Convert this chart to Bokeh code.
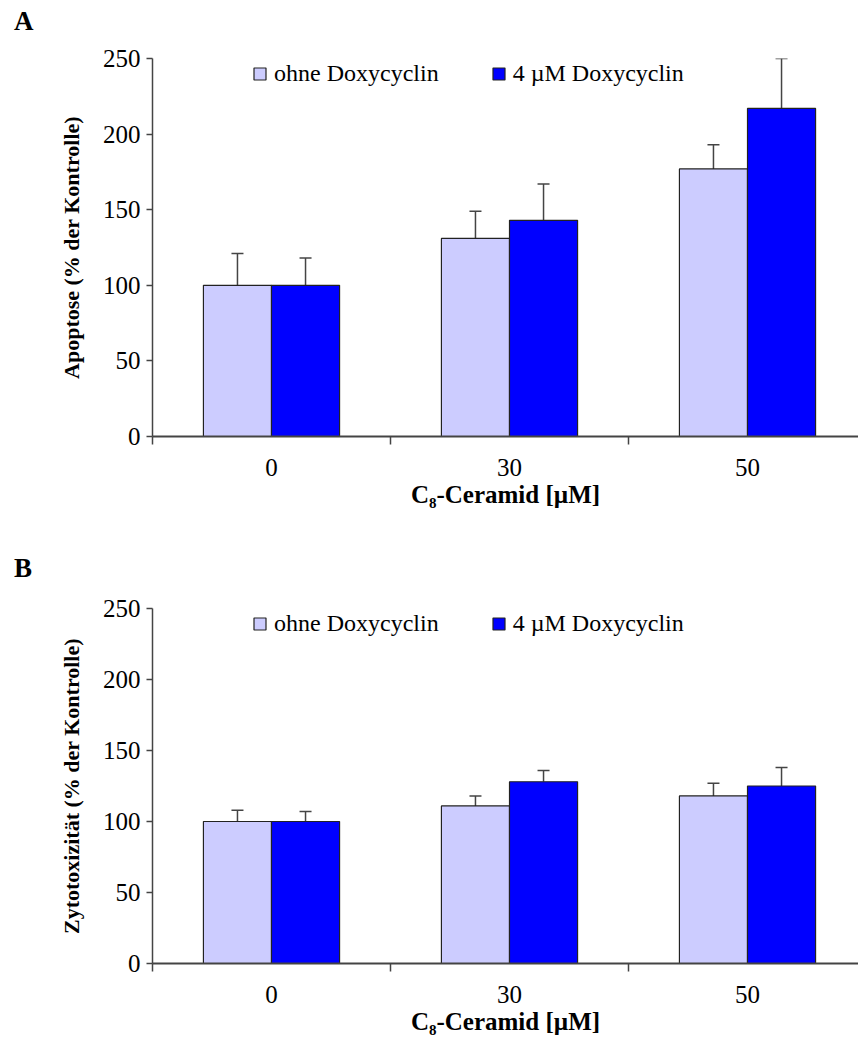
from bokeh.plotting import figure
from bokeh.models import (Range1d, FixedTicker, Legend, LegendItem,
                          Whisker, TeeHead, ColumnDataSource, Div)
from bokeh.layouts import column
from bokeh.embed import file_html
from bokeh.resources import INLINE

categories = ["0", "30", "50"]
series_names = ["ohne Doxycyclin", "4 \u00b5M Doxycyclin"]
series_colors = ["#CCCCFF", "#0000FF"]

apoptose_ohne = [100, 131, 177]
apoptose_ohne_sd = [21, 18, 16]
apoptose_doxy = [100, 143, 217]
apoptose_doxy_sd = [18, 24, 33]

zyto_ohne = [100, 111, 118]
zyto_ohne_sd = [8, 7, 9]
zyto_doxy = [100, 128, 125]
zyto_doxy_sd = [7, 8, 13]

y_ticks = [0, 50, 100, 150, 200, 250]

FONT = "Liberation Serif"
AXIS_COLOR = "#444444"


def make_letter(letter, div_h, pad_top):
    html = ('<div style="margin:0;padding:0;padding-top:%dpx;padding-left:14px;'
            'font-family:\'Liberation Serif\';font-weight:bold;font-size:27px;'
            'line-height:30px;color:black;">%s</div>' % (pad_top, letter))
    return Div(text=html, width=858, height=div_h, margin=0)


def make_panel(ylabel, ohne, ohne_sd, doxy, doxy_sd,
               frame_h, border_top, border_bottom):
    n = len(categories)
    centers = [i + 0.5 for i in range(n)]
    bw = 0.286
    x_end = 706 / 238.0
    p = figure(width=858, height=border_top + frame_h + border_bottom,
               x_range=Range1d(0, x_end), y_range=Range1d(0, 250),
               output_backend="svg", toolbar_location=None,
               min_border_left=152, min_border_right=0,
               min_border_top=border_top, min_border_bottom=border_bottom,
               margin=0)
    p.outline_line_color = None
    p.xgrid.visible = False
    p.ygrid.visible = False
    p.background_fill_color = "white"
    p.border_fill_color = "white"

    renderers = []
    for k, (vals, sds) in enumerate([(ohne, ohne_sd), (doxy, doxy_sd)]):
        xs = [c + (k - 0.5) * bw for c in centers]
        src = ColumnDataSource(dict(x=xs, top=vals,
                                    upper=[v + s for v, s in zip(vals, sds)]))
        r = p.vbar(x="x", top="top", bottom=0, width=bw, source=src,
                   fill_color=series_colors[k], line_color="#222222",
                   line_width=1.2)
        renderers.append(r)
        w = Whisker(base="x", lower="top", upper="upper", source=src,
                    line_color="#444444", line_width=1.5,
                    lower_head=None,
                    upper_head=TeeHead(size=12, line_color="#444444",
                                       line_width=1.5))
        p.add_layout(w)

    # x axis
    xa = p.xaxis[0]
    xa.ticker = FixedTicker(ticks=centers, minor_ticks=list(range(n + 1)))
    xa.major_label_overrides = {c: lab for c, lab in zip(centers, categories)}
    xa.major_tick_out = 0
    xa.major_tick_in = 0
    xa.minor_tick_out = 8
    xa.minor_tick_in = 0
    xa.minor_tick_line_color = AXIS_COLOR
    xa.minor_tick_line_width = 1.5
    xa.axis_line_color = AXIS_COLOR
    xa.axis_line_width = 2
    xa.major_label_text_font = FONT
    xa.major_label_text_font_size = "25px"
    xa.major_label_text_color = "black"
    xa.major_label_standoff = 14
    xa.axis_label = "C\u2088-Ceramid [\u00b5M]"
    xa.axis_label_text_font = FONT
    xa.axis_label_text_font_style = "bold"
    xa.axis_label_text_font_size = "25px"
    xa.axis_label_text_color = "black"
    xa.axis_label_standoff = 2

    # y axis
    ya = p.yaxis[0]
    ya.ticker = FixedTicker(ticks=y_ticks, minor_ticks=[])
    ya.major_tick_out = 6
    ya.major_tick_in = 0
    ya.major_tick_line_color = AXIS_COLOR
    ya.major_tick_line_width = 1.5
    ya.axis_line_color = AXIS_COLOR
    ya.axis_line_width = 1.5
    ya.major_label_text_font = FONT
    ya.major_label_text_font_size = "25px"
    ya.major_label_text_color = "black"
    ya.major_label_standoff = 6
    ya.axis_label = ylabel
    ya.axis_label_text_font = FONT
    ya.axis_label_text_font_style = "bold"
    ya.axis_label_text_font_size = "22px"
    ya.axis_label_text_color = "black"
    ya.axis_label_standoff = 16

    legend = Legend(items=[LegendItem(label=series_names[i], renderers=[renderers[i]])
                           for i in range(2)],
                    orientation="horizontal",
                    location=(100, frame_h - 29),
                    padding=0, margin=0, spacing=52,
                    glyph_width=15, glyph_height=15, label_standoff=7,
                    label_text_font=FONT, label_text_font_size="24px",
                    label_text_color="black",
                    border_line_alpha=0, background_fill_alpha=0)
    p.add_layout(legend, "center")
    return p


divA = make_letter("A", 36, 6)
pA = make_panel("Apoptose (% der Kontrolle)",
                apoptose_ohne, apoptose_ohne_sd, apoptose_doxy, apoptose_doxy_sd,
                frame_h=378, border_top=22, border_bottom=85)
divB = make_letter("B", 62, 32)
pB = make_panel("Zytotoxizit\u00e4t (% der Kontrolle)",
                zyto_ohne, zyto_ohne_sd, zyto_doxy, zyto_doxy_sd,
                frame_h=355, border_top=25, border_bottom=80)

layout = column(divA, pA, divB, pB, spacing=0, margin=0)
open("out.html", "w").write(file_html(layout, INLINE))
